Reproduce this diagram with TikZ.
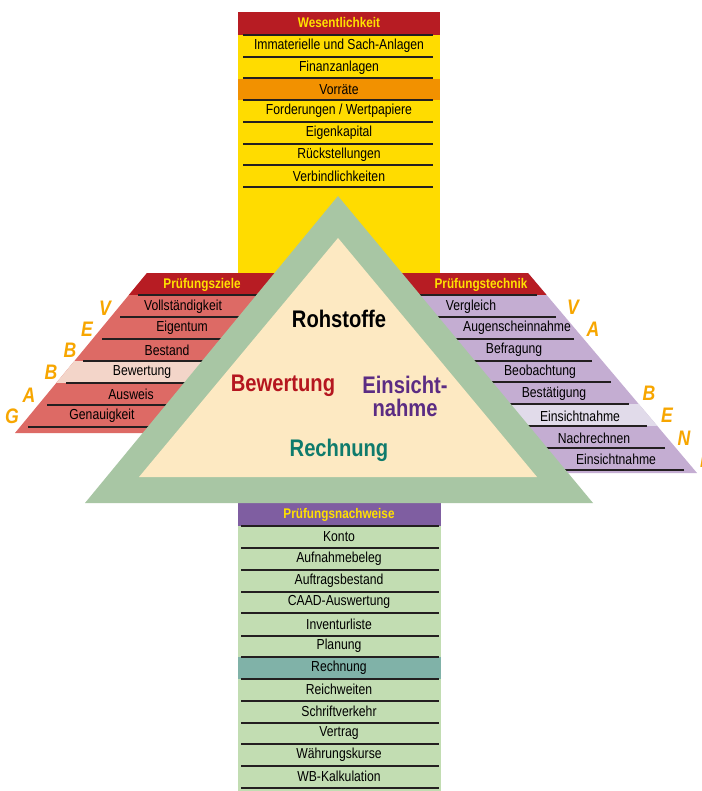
\documentclass[tikz,border=0pt]{standalone}
\usepackage{fontspec}
\setmainfont{Liberation Sans}[FakeStretch=0.84]
\definecolor{yel}{HTML}{FFDC00}
\definecolor{orng}{HTML}{F29100}
\definecolor{dred}{HTML}{B71C23}
\definecolor{hdryel}{HTML}{FFE100}
\definecolor{salmon}{HTML}{DD6A65}
\definecolor{palepink}{HTML}{F3D5C9}
\definecolor{lav}{HTML}{C4ADD2}
\definecolor{palelav}{HTML}{E1DBEA}
\definecolor{trigreen}{HTML}{A8C6A4}
\definecolor{peach}{HTML}{FDE9C2}
\definecolor{lgreen}{HTML}{C2DDB2}
\definecolor{tealband}{HTML}{80B2A8}
\definecolor{purp}{HTML}{7F5EA1}
\definecolor{lettero}{HTML}{F7A600}
\definecolor{linec}{HTML}{231F20}
\definecolor{bigred}{HTML}{B5161F}
\definecolor{bigpurp}{HTML}{5B2C83}
\definecolor{bigteal}{HTML}{0F7B6C}
\begin{document}
\begin{tikzpicture}[x=1pt,y=-1pt,
  rowtxt/.style={font=\fontsize{14.5}{15}\selectfont, text=black, inner sep=0pt},
  hdr/.style={font=\bfseries\fontsize{14}{15}\selectfont, text=hdryel, inner sep=0pt},
  sepline/.style={draw=linec, line width=1.1pt},
  letter/.style={font=\bfseries\itshape\fontsize{21}{22}\selectfont, text=lettero, inner sep=0pt},
  bigtxt/.style={font=\bfseries\fontsize{24}{23}\selectfont, inner sep=0pt, align=center}]
\useasboundingbox (0,0) rectangle (701,791);
\clip (0,0) rectangle (701,791);
\fill[white] (0,0) rectangle (701,791);

% ---------- top block ----------
\fill[yel] (238,12) rectangle (440,285);
\fill[dred] (238,12) rectangle (440,35);
\fill[orng] (238,79) rectangle (440,100);
\foreach \y in {35,57,78,100,122,144,165,187} \draw[sepline] (243,\y) -- (433,\y);
\node[hdr] (wes) at (339,23) {Wesentlichkeit};
\foreach \t [count=\i from 0] in {Immaterielle und Sach-Anlagen,Finanzanlagen,Vorräte,Forderungen / Wertpapiere,Eigenkapital,Rückstellungen,Verbindlichkeiten}
  \node[rowtxt] (top\i) at (339,46+21.7*\i) {\t};

% ---------- left parallelogram ----------
\begin{scope}
  \clip (147,273) -- (330,273) -- (200,433) -- (15,433) -- cycle;
  \fill[salmon] (0,270) rectangle (400,440);
  \fill[dred] (0,273) rectangle (400,295);
  \fill[palepink] (0,361) rectangle (400,383);
\end{scope}
\foreach \y/\x in {295/138,317/120,339/102,361/83,383/66,405/47,427/28}
  \draw[sepline] (\x,\y) -- ++(130,0);
\node[hdr] (zi) at (202,285) {Prüfungsziele};
\node[rowtxt] (l1) at (183,307) {Vollständigkeit};
\node[rowtxt] (l2) at (182,328) {Eigentum};
\node[rowtxt] (l3) at (167,350) {Bestand};
\node[rowtxt] (l4) at (142,372) {Bewertung};
\node[rowtxt] (l5) at (131,394) {Ausweis};
\node[rowtxt] (l6) at (102,416) {Genauigkeit};
\node[letter] (lv) at (105,308) {V};
\node[letter] (le) at (87,329) {E};
\node[letter] (lb1) at (70,350) {B};
\node[letter] (lb2) at (51,372) {B};
\node[letter] (la) at (29,395) {A};
\node[letter] (lg) at (12,416) {G};

% ---------- right parallelogram ----------
\begin{scope}
  \clip (380,273) -- (528,273) -- (697,473) -- (480,473) -- cycle;
  \fill[lav] (300,270) rectangle (701,480);
  \fill[dred] (300,273) rectangle (701,295);
  \fill[palelav] (300,404) rectangle (701,426);
\end{scope}
\foreach \y/\x in {295/537,317/556,339/574,361/592,382/611,404/629,426/647,448/665,470/684}
  \draw[sepline] (\x,\y) -- ++(-140,0);
\node[hdr] (te) at (481,285) {Prüfungstechnik};
\node[rowtxt] (r1) at (471,307) {Vergleich};
\node[rowtxt] (r2) at (517,328) {Augenscheinnahme};
\node[rowtxt] (r3) at (514,350) {Befragung};
\node[rowtxt] (r4) at (540,372) {Beobachtung};
\node[rowtxt] (r5) at (554,394) {Bestätigung};
\node[rowtxt] (r6) at (580,416) {Einsichtnahme};
\node[rowtxt] (r7) at (594,438) {Nachrechnen};
\node[rowtxt] (r8) at (616,459) {Einsichtnahme};
\node[letter] (rv) at (573,307) {V};
\node[letter] (ra) at (593,329) {A};
\node[letter] (rb) at (649,393) {B};
\node[letter] (re) at (667,415) {E};
\node[letter] (rn) at (684,438) {N};
\node[letter] (re2) at (706,460) {E};

% ---------- bottom block ----------
\fill[lgreen] (238,503) rectangle (441,791);
\fill[purp] (238,503) rectangle (441,526);
\fill[tealband] (238,657) rectangle (441,679);
\foreach \y in {526,548,570,592,613,636,657,679,701,723,744,766,788} \draw[sepline] (241,\y) -- (439,\y);
\node[hdr] (nw) at (339,515) {Prüfungsnachweise};
\foreach \t [count=\i from 0] in {Konto,Aufnahmebeleg,Auftragsbestand,CAAD-Auswertung,Inventurliste,Planung,Rechnung,Reichweiten,Schriftverkehr,Vertrag,Währungskurse,WB-Kalkulation}
  \node[rowtxt] (bot\i) at (339,537+21.8*\i) {\t};

% ---------- triangle ----------
\fill[trigreen] (338,196) -- (85,503) -- (593,503) -- cycle;
\fill[peach] (338,238) -- (139,477) -- (537,477) -- cycle;
\node[bigtxt, text=black] (roh) at (339,319) {Rohstoffe};
\node[bigtxt, text=bigred] (bew) at (283,386) {Bewertung};
\node[bigtxt, text=bigpurp] (ein) at (405,396) {Einsicht-\\nahme};
\node[bigtxt, text=bigteal] (rech) at (339,450) {Rechnung};
\end{tikzpicture}
\end{document}
